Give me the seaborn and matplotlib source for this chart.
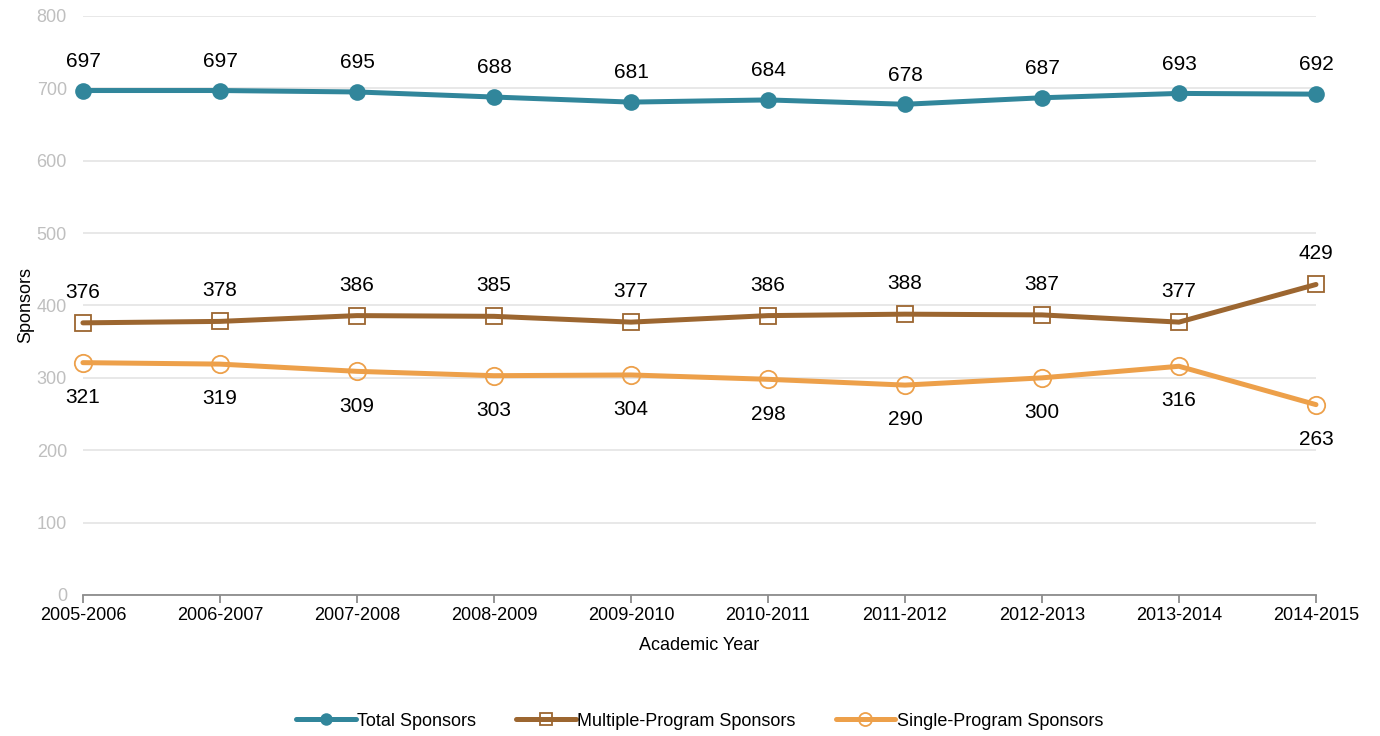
import pandas as pd
import matplotlib.pyplot as plt
import seaborn as sns

years = ["2005-2006", "2006-2007", "2007-2008", "2008-2009", "2009-2010",
         "2010-2011", "2011-2012", "2012-2013", "2013-2014", "2014-2015"]
total = [697, 697, 695, 688, 681, 684, 678, 687, 693, 692]
multiple = [376, 378, 386, 385, 377, 386, 388, 387, 377, 429]
single = [321, 319, 309, 303, 304, 298, 290, 300, 316, 263]

sns.set_style("white")
plt.rcParams['font.family'] = ['Liberation Sans', 'DejaVu Sans']
plt.rcParams['text.color'] = 'black'
plt.rcParams['axes.labelcolor'] = 'black'

fig = plt.figure(figsize=(13.8, 7.36), dpi=100)
ax = fig.add_axes([0.0601, 0.1916, 0.8935, 0.7867])

pos = list(range(len(years)))

sns.lineplot(x=pos, y=total, ax=ax, color="#31869B", linewidth=3.6,
             marker="o", markersize=12, markeredgewidth=0, clip_on=False,
             label="Total Sponsors")
sns.lineplot(x=pos, y=multiple, ax=ax, color="#9C6630", linewidth=3.6,
             marker="s", markersize=11.5, markerfacecolor="none",
             markeredgecolor="#9C6630", markeredgewidth=1.3, clip_on=False,
             label="Multiple-Program Sponsors")
sns.lineplot(x=pos, y=single, ax=ax, color="#EDA04A", linewidth=3.6,
             marker="o", markersize=12.5, markerfacecolor="none",
             markeredgecolor="#EDA04A", markeredgewidth=1.3, clip_on=False,
             label="Single-Program Sponsors")

# data labels
for i in pos:
    ax.annotate(str(total[i]), (i, total[i]), xytext=(0, 21), textcoords="offset points",
                ha="center", va="center", fontsize=15)
    ax.annotate(str(multiple[i]), (i, multiple[i]), xytext=(0, 22), textcoords="offset points",
                ha="center", va="center", fontsize=15)
    ax.annotate(str(single[i]), (i, single[i]), xytext=(0, -25), textcoords="offset points",
                ha="center", va="center", fontsize=15)

ax.set_xlim(0, 9)
ax.set_ylim(0, 800)
ax.set_yticks(range(0, 801, 100))
ax.set_xticks(pos)
ax.set_xticklabels(years)
ax.grid(axis="y", color="#E4E4E4", linewidth=1.2)
ax.set_axisbelow(True)
for s in ["top", "right", "left"]:
    ax.spines[s].set_visible(False)
ax.spines["bottom"].set_color("#8C8C8C")
ax.spines["bottom"].set_linewidth(1.3)
ax.tick_params(axis="x", bottom=True, length=6, color="#8C8C8C", width=1.3,
               labelsize=13, labelcolor="black", pad=3)
ax.tick_params(axis="y", left=False, labelsize=13, labelcolor="#BFBFBF", pad=8)
ax.set_xlabel("Academic Year", fontsize=13, labelpad=9)
ax.set_ylabel("Sponsors", fontsize=13, labelpad=2)

ax.get_legend().remove()
h, l = ax.get_legend_handles_labels()
fig.legend(h, l, loc="center", bbox_to_anchor=(0.507, 0.020), ncol=3, frameon=False,
           fontsize=13, handlelength=3.3, columnspacing=2.2, handletextpad=0.1,
           markerscale=0.75)

fig.savefig("out.png", dpi=100)
